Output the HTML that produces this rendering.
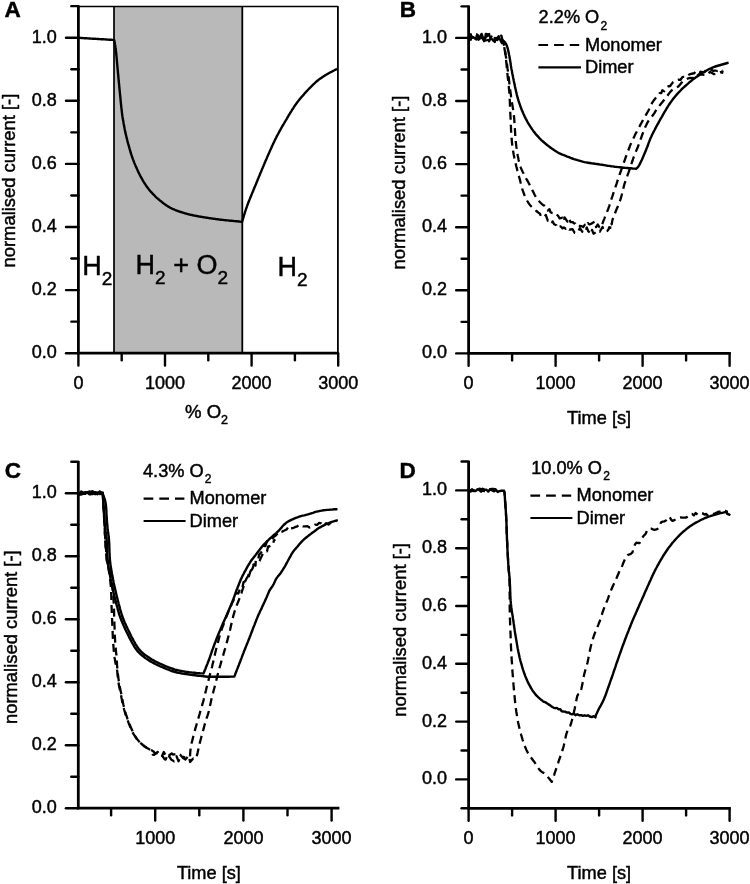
<!DOCTYPE html>
<html><head><meta charset="utf-8"><style>
html,body{margin:0;padding:0;background:#fff;}
svg{display:block;font-family:"Liberation Sans", sans-serif;}
text{stroke:#000;stroke-width:0.45px;}
</style></head><body>
<svg style="filter:grayscale(1)" width="750" height="884" viewBox="0 0 750 884" font-family='"Liberation Sans", sans-serif' fill="#000">
<rect width="750" height="884" fill="#fff"/>
<rect x="114.00" y="6.15" width="128.30" height="347.05" fill="#b9b9b9"/>
<line x1="114.00" y1="6.15" x2="114.00" y2="353.20" stroke="#000" stroke-width="1.7" stroke-linecap="butt"/>
<line x1="242.30" y1="6.15" x2="242.30" y2="353.20" stroke="#000" stroke-width="1.8" stroke-linecap="butt"/>
<line x1="78.40" y1="6.60" x2="337.90" y2="6.60" stroke="#000" stroke-width="1.5" stroke-linecap="butt"/>
<line x1="337.90" y1="5.90" x2="337.90" y2="353.20" stroke="#000" stroke-width="1.8" stroke-linecap="butt"/>
<line x1="78.40" y1="5.65" x2="78.40" y2="353.20" stroke="#000" stroke-width="2.8" stroke-linecap="butt"/>
<line x1="77.00" y1="353.20" x2="338.90" y2="353.20" stroke="#000" stroke-width="2.8" stroke-linecap="butt"/>
<line x1="66.00" y1="353.20" x2="78.40" y2="353.20" stroke="#000" stroke-width="2.4" stroke-linecap="round"/>
<line x1="66.00" y1="290.10" x2="78.40" y2="290.10" stroke="#000" stroke-width="2.4" stroke-linecap="round"/>
<line x1="66.00" y1="227.00" x2="78.40" y2="227.00" stroke="#000" stroke-width="2.4" stroke-linecap="round"/>
<line x1="66.00" y1="163.90" x2="78.40" y2="163.90" stroke="#000" stroke-width="2.4" stroke-linecap="round"/>
<line x1="66.00" y1="100.80" x2="78.40" y2="100.80" stroke="#000" stroke-width="2.4" stroke-linecap="round"/>
<line x1="66.00" y1="37.70" x2="78.40" y2="37.70" stroke="#000" stroke-width="2.4" stroke-linecap="round"/>
<line x1="71.40" y1="321.65" x2="78.40" y2="321.65" stroke="#000" stroke-width="2.4" stroke-linecap="round"/>
<line x1="71.40" y1="258.55" x2="78.40" y2="258.55" stroke="#000" stroke-width="2.4" stroke-linecap="round"/>
<line x1="71.40" y1="195.45" x2="78.40" y2="195.45" stroke="#000" stroke-width="2.4" stroke-linecap="round"/>
<line x1="71.40" y1="132.35" x2="78.40" y2="132.35" stroke="#000" stroke-width="2.4" stroke-linecap="round"/>
<line x1="71.40" y1="69.25" x2="78.40" y2="69.25" stroke="#000" stroke-width="2.4" stroke-linecap="round"/>
<line x1="71.40" y1="6.15" x2="78.40" y2="6.15" stroke="#000" stroke-width="2.4" stroke-linecap="round"/>
<line x1="78.40" y1="353.20" x2="78.40" y2="365.60" stroke="#000" stroke-width="2.4" stroke-linecap="round"/>
<line x1="165.00" y1="353.20" x2="165.00" y2="365.60" stroke="#000" stroke-width="2.4" stroke-linecap="round"/>
<line x1="251.60" y1="353.20" x2="251.60" y2="365.60" stroke="#000" stroke-width="2.4" stroke-linecap="round"/>
<line x1="338.20" y1="353.20" x2="338.20" y2="365.60" stroke="#000" stroke-width="2.4" stroke-linecap="round"/>
<line x1="121.70" y1="353.20" x2="121.70" y2="360.20" stroke="#000" stroke-width="2.4" stroke-linecap="round"/>
<line x1="208.30" y1="353.20" x2="208.30" y2="360.20" stroke="#000" stroke-width="2.4" stroke-linecap="round"/>
<line x1="294.90" y1="353.20" x2="294.90" y2="360.20" stroke="#000" stroke-width="2.4" stroke-linecap="round"/>
<text x="56.80" y="358.20" font-size="18" text-anchor="end" font-weight="normal">0.0</text>
<text x="56.80" y="295.10" font-size="18" text-anchor="end" font-weight="normal">0.2</text>
<text x="56.80" y="232.00" font-size="18" text-anchor="end" font-weight="normal">0.4</text>
<text x="56.80" y="168.90" font-size="18" text-anchor="end" font-weight="normal">0.6</text>
<text x="56.80" y="105.80" font-size="18" text-anchor="end" font-weight="normal">0.8</text>
<text x="56.80" y="42.70" font-size="18" text-anchor="end" font-weight="normal">1.0</text>
<text x="78.40" y="388.60" font-size="18" text-anchor="middle" font-weight="normal">0</text>
<text x="165.00" y="388.60" font-size="18" text-anchor="middle" font-weight="normal">1000</text>
<text x="251.60" y="388.60" font-size="18" text-anchor="middle" font-weight="normal">2000</text>
<text x="338.20" y="388.60" font-size="18" text-anchor="middle" font-weight="normal">3000</text>
<text transform="translate(14.60,180.60) rotate(-90)" x="0" y="0" font-size="18.4" text-anchor="middle">normalised current [-]</text>
<text x="206.50" y="417.80" font-size="18.6" text-anchor="middle" font-weight="normal">% O<tspan font-size="12.5" dy="6.3">2</tspan></text>
<text x="4.60" y="17.30" font-size="22.5" text-anchor="start" font-weight="bold">A</text>
<text x="82.30" y="274.70" font-size="27" text-anchor="start" font-weight="normal">H<tspan font-size="19" dy="10">2</tspan></text>
<text x="135.60" y="274.30" font-size="27" text-anchor="start" font-weight="normal">H<tspan font-size="19" dy="10">2</tspan><tspan dy="-10"> + O</tspan><tspan font-size="19" dy="10">2</tspan></text>
<text x="277.50" y="275.80" font-size="27" text-anchor="start" font-weight="normal">H<tspan font-size="19" dy="10">2</tspan></text>
<line x1="468.60" y1="5.85" x2="468.60" y2="353.40" stroke="#000" stroke-width="2.8" stroke-linecap="butt"/>
<line x1="467.20" y1="353.40" x2="730.80" y2="353.40" stroke="#000" stroke-width="2.8" stroke-linecap="butt"/>
<line x1="456.20" y1="353.40" x2="468.60" y2="353.40" stroke="#000" stroke-width="2.4" stroke-linecap="round"/>
<line x1="456.20" y1="290.30" x2="468.60" y2="290.30" stroke="#000" stroke-width="2.4" stroke-linecap="round"/>
<line x1="456.20" y1="227.20" x2="468.60" y2="227.20" stroke="#000" stroke-width="2.4" stroke-linecap="round"/>
<line x1="456.20" y1="164.10" x2="468.60" y2="164.10" stroke="#000" stroke-width="2.4" stroke-linecap="round"/>
<line x1="456.20" y1="101.00" x2="468.60" y2="101.00" stroke="#000" stroke-width="2.4" stroke-linecap="round"/>
<line x1="456.20" y1="37.90" x2="468.60" y2="37.90" stroke="#000" stroke-width="2.4" stroke-linecap="round"/>
<line x1="461.60" y1="321.85" x2="468.60" y2="321.85" stroke="#000" stroke-width="2.4" stroke-linecap="round"/>
<line x1="461.60" y1="258.75" x2="468.60" y2="258.75" stroke="#000" stroke-width="2.4" stroke-linecap="round"/>
<line x1="461.60" y1="195.65" x2="468.60" y2="195.65" stroke="#000" stroke-width="2.4" stroke-linecap="round"/>
<line x1="461.60" y1="132.55" x2="468.60" y2="132.55" stroke="#000" stroke-width="2.4" stroke-linecap="round"/>
<line x1="461.60" y1="69.45" x2="468.60" y2="69.45" stroke="#000" stroke-width="2.4" stroke-linecap="round"/>
<line x1="461.60" y1="6.35" x2="468.60" y2="6.35" stroke="#000" stroke-width="2.4" stroke-linecap="round"/>
<line x1="468.60" y1="353.40" x2="468.60" y2="365.80" stroke="#000" stroke-width="2.4" stroke-linecap="round"/>
<line x1="555.60" y1="353.40" x2="555.60" y2="365.80" stroke="#000" stroke-width="2.4" stroke-linecap="round"/>
<line x1="642.60" y1="353.40" x2="642.60" y2="365.80" stroke="#000" stroke-width="2.4" stroke-linecap="round"/>
<line x1="729.60" y1="353.40" x2="729.60" y2="365.80" stroke="#000" stroke-width="2.4" stroke-linecap="round"/>
<line x1="512.10" y1="353.40" x2="512.10" y2="360.40" stroke="#000" stroke-width="2.4" stroke-linecap="round"/>
<line x1="599.10" y1="353.40" x2="599.10" y2="360.40" stroke="#000" stroke-width="2.4" stroke-linecap="round"/>
<line x1="686.10" y1="353.40" x2="686.10" y2="360.40" stroke="#000" stroke-width="2.4" stroke-linecap="round"/>
<text x="447.00" y="358.40" font-size="18" text-anchor="end" font-weight="normal">0.0</text>
<text x="447.00" y="295.30" font-size="18" text-anchor="end" font-weight="normal">0.2</text>
<text x="447.00" y="232.20" font-size="18" text-anchor="end" font-weight="normal">0.4</text>
<text x="447.00" y="169.10" font-size="18" text-anchor="end" font-weight="normal">0.6</text>
<text x="447.00" y="106.00" font-size="18" text-anchor="end" font-weight="normal">0.8</text>
<text x="447.00" y="42.90" font-size="18" text-anchor="end" font-weight="normal">1.0</text>
<text x="468.60" y="388.80" font-size="18" text-anchor="middle" font-weight="normal">0</text>
<text x="555.60" y="388.80" font-size="18" text-anchor="middle" font-weight="normal">1000</text>
<text x="642.60" y="388.80" font-size="18" text-anchor="middle" font-weight="normal">2000</text>
<text x="729.60" y="388.80" font-size="18" text-anchor="middle" font-weight="normal">3000</text>
<text transform="translate(404.60,182.50) rotate(-90)" x="0" y="0" font-size="18.4" text-anchor="middle">normalised current [-]</text>
<text x="599.10" y="423.70" font-size="18.2" text-anchor="middle" font-weight="normal">Time [s]</text>
<text x="399.80" y="17.30" font-size="22.5" text-anchor="start" font-weight="bold">B</text>
<line x1="78.30" y1="461.31" x2="78.30" y2="808.20" stroke="#000" stroke-width="2.8" stroke-linecap="butt"/>
<line x1="76.90" y1="808.20" x2="339.40" y2="808.20" stroke="#000" stroke-width="2.8" stroke-linecap="butt"/>
<line x1="65.90" y1="808.20" x2="78.30" y2="808.20" stroke="#000" stroke-width="2.4" stroke-linecap="round"/>
<line x1="65.90" y1="745.22" x2="78.30" y2="745.22" stroke="#000" stroke-width="2.4" stroke-linecap="round"/>
<line x1="65.90" y1="682.24" x2="78.30" y2="682.24" stroke="#000" stroke-width="2.4" stroke-linecap="round"/>
<line x1="65.90" y1="619.26" x2="78.30" y2="619.26" stroke="#000" stroke-width="2.4" stroke-linecap="round"/>
<line x1="65.90" y1="556.28" x2="78.30" y2="556.28" stroke="#000" stroke-width="2.4" stroke-linecap="round"/>
<line x1="65.90" y1="493.30" x2="78.30" y2="493.30" stroke="#000" stroke-width="2.4" stroke-linecap="round"/>
<line x1="71.30" y1="776.71" x2="78.30" y2="776.71" stroke="#000" stroke-width="2.4" stroke-linecap="round"/>
<line x1="71.30" y1="713.73" x2="78.30" y2="713.73" stroke="#000" stroke-width="2.4" stroke-linecap="round"/>
<line x1="71.30" y1="650.75" x2="78.30" y2="650.75" stroke="#000" stroke-width="2.4" stroke-linecap="round"/>
<line x1="71.30" y1="587.77" x2="78.30" y2="587.77" stroke="#000" stroke-width="2.4" stroke-linecap="round"/>
<line x1="71.30" y1="524.79" x2="78.30" y2="524.79" stroke="#000" stroke-width="2.4" stroke-linecap="round"/>
<line x1="71.30" y1="461.81" x2="78.30" y2="461.81" stroke="#000" stroke-width="2.4" stroke-linecap="round"/>
<line x1="155.20" y1="808.20" x2="155.20" y2="820.60" stroke="#000" stroke-width="2.4" stroke-linecap="round"/>
<line x1="243.40" y1="808.20" x2="243.40" y2="820.60" stroke="#000" stroke-width="2.4" stroke-linecap="round"/>
<line x1="331.60" y1="808.20" x2="331.60" y2="820.60" stroke="#000" stroke-width="2.4" stroke-linecap="round"/>
<line x1="111.10" y1="808.20" x2="111.10" y2="815.20" stroke="#000" stroke-width="2.4" stroke-linecap="round"/>
<line x1="199.30" y1="808.20" x2="199.30" y2="815.20" stroke="#000" stroke-width="2.4" stroke-linecap="round"/>
<line x1="287.50" y1="808.20" x2="287.50" y2="815.20" stroke="#000" stroke-width="2.4" stroke-linecap="round"/>
<text x="56.70" y="813.20" font-size="18" text-anchor="end" font-weight="normal">0.0</text>
<text x="56.70" y="750.22" font-size="18" text-anchor="end" font-weight="normal">0.2</text>
<text x="56.70" y="687.24" font-size="18" text-anchor="end" font-weight="normal">0.4</text>
<text x="56.70" y="624.26" font-size="18" text-anchor="end" font-weight="normal">0.6</text>
<text x="56.70" y="561.28" font-size="18" text-anchor="end" font-weight="normal">0.8</text>
<text x="56.70" y="498.30" font-size="18" text-anchor="end" font-weight="normal">1.0</text>
<text x="155.20" y="843.60" font-size="18" text-anchor="middle" font-weight="normal">1000</text>
<text x="243.40" y="843.60" font-size="18" text-anchor="middle" font-weight="normal">2000</text>
<text x="331.60" y="843.60" font-size="18" text-anchor="middle" font-weight="normal">3000</text>
<text transform="translate(17.10,637.20) rotate(-90)" x="0" y="0" font-size="18.4" text-anchor="middle">normalised current [-]</text>
<text x="208.90" y="879.40" font-size="18.2" text-anchor="middle" font-weight="normal">Time [s]</text>
<text x="4.80" y="477.70" font-size="22.5" text-anchor="start" font-weight="bold">C</text>
<line x1="468.60" y1="461.00" x2="468.60" y2="808.40" stroke="#000" stroke-width="2.8" stroke-linecap="butt"/>
<line x1="467.20" y1="808.40" x2="730.80" y2="808.40" stroke="#000" stroke-width="2.8" stroke-linecap="butt"/>
<line x1="456.20" y1="779.40" x2="468.60" y2="779.40" stroke="#000" stroke-width="2.4" stroke-linecap="round"/>
<line x1="456.20" y1="721.60" x2="468.60" y2="721.60" stroke="#000" stroke-width="2.4" stroke-linecap="round"/>
<line x1="456.20" y1="663.80" x2="468.60" y2="663.80" stroke="#000" stroke-width="2.4" stroke-linecap="round"/>
<line x1="456.20" y1="606.00" x2="468.60" y2="606.00" stroke="#000" stroke-width="2.4" stroke-linecap="round"/>
<line x1="456.20" y1="548.20" x2="468.60" y2="548.20" stroke="#000" stroke-width="2.4" stroke-linecap="round"/>
<line x1="456.20" y1="490.40" x2="468.60" y2="490.40" stroke="#000" stroke-width="2.4" stroke-linecap="round"/>
<line x1="461.60" y1="808.30" x2="468.60" y2="808.30" stroke="#000" stroke-width="2.4" stroke-linecap="round"/>
<line x1="461.60" y1="750.50" x2="468.60" y2="750.50" stroke="#000" stroke-width="2.4" stroke-linecap="round"/>
<line x1="461.60" y1="692.70" x2="468.60" y2="692.70" stroke="#000" stroke-width="2.4" stroke-linecap="round"/>
<line x1="461.60" y1="634.90" x2="468.60" y2="634.90" stroke="#000" stroke-width="2.4" stroke-linecap="round"/>
<line x1="461.60" y1="577.10" x2="468.60" y2="577.10" stroke="#000" stroke-width="2.4" stroke-linecap="round"/>
<line x1="461.60" y1="519.30" x2="468.60" y2="519.30" stroke="#000" stroke-width="2.4" stroke-linecap="round"/>
<line x1="461.60" y1="461.50" x2="468.60" y2="461.50" stroke="#000" stroke-width="2.4" stroke-linecap="round"/>
<line x1="468.60" y1="808.40" x2="468.60" y2="820.80" stroke="#000" stroke-width="2.4" stroke-linecap="round"/>
<line x1="555.60" y1="808.40" x2="555.60" y2="820.80" stroke="#000" stroke-width="2.4" stroke-linecap="round"/>
<line x1="642.60" y1="808.40" x2="642.60" y2="820.80" stroke="#000" stroke-width="2.4" stroke-linecap="round"/>
<line x1="729.60" y1="808.40" x2="729.60" y2="820.80" stroke="#000" stroke-width="2.4" stroke-linecap="round"/>
<line x1="512.10" y1="808.40" x2="512.10" y2="815.40" stroke="#000" stroke-width="2.4" stroke-linecap="round"/>
<line x1="599.10" y1="808.40" x2="599.10" y2="815.40" stroke="#000" stroke-width="2.4" stroke-linecap="round"/>
<line x1="686.10" y1="808.40" x2="686.10" y2="815.40" stroke="#000" stroke-width="2.4" stroke-linecap="round"/>
<text x="447.00" y="784.40" font-size="18" text-anchor="end" font-weight="normal">0.0</text>
<text x="447.00" y="726.60" font-size="18" text-anchor="end" font-weight="normal">0.2</text>
<text x="447.00" y="668.80" font-size="18" text-anchor="end" font-weight="normal">0.4</text>
<text x="447.00" y="611.00" font-size="18" text-anchor="end" font-weight="normal">0.6</text>
<text x="447.00" y="553.20" font-size="18" text-anchor="end" font-weight="normal">0.8</text>
<text x="447.00" y="495.40" font-size="18" text-anchor="end" font-weight="normal">1.0</text>
<text x="468.60" y="843.80" font-size="18" text-anchor="middle" font-weight="normal">0</text>
<text x="555.60" y="843.80" font-size="18" text-anchor="middle" font-weight="normal">1000</text>
<text x="642.60" y="843.80" font-size="18" text-anchor="middle" font-weight="normal">2000</text>
<text x="729.60" y="843.80" font-size="18" text-anchor="middle" font-weight="normal">3000</text>
<text transform="translate(406.40,629.90) rotate(-90)" x="0" y="0" font-size="18.4" text-anchor="middle">normalised current [-]</text>
<text x="599.10" y="878.80" font-size="18.2" text-anchor="middle" font-weight="normal">Time [s]</text>
<text x="399.50" y="477.50" font-size="22.5" text-anchor="start" font-weight="bold">D</text>
<text x="538.60" y="23.40" font-size="18.2" text-anchor="start" font-weight="normal">2.2% O<tspan font-size="12" dx="1.2" dy="6.3">2</tspan></text>
<line x1="538.40" y1="45.00" x2="579.20" y2="45.00" stroke="#000" stroke-width="2.2" stroke-linecap="butt" stroke-dasharray="9.7 6"/>
<line x1="538.40" y1="67.40" x2="581.00" y2="67.40" stroke="#000" stroke-width="2.2" stroke-linecap="butt"/>
<text x="585.00" y="50.70" font-size="18.2" text-anchor="start" font-weight="normal">Monomer</text>
<text x="585.00" y="73.10" font-size="18.2" text-anchor="start" font-weight="normal">Dimer</text>
<text x="143.00" y="477.00" font-size="18.2" text-anchor="start" font-weight="normal">4.3% O<tspan font-size="12" dx="1.2" dy="6.3">2</tspan></text>
<line x1="143.60" y1="498.60" x2="184.40" y2="498.60" stroke="#000" stroke-width="2.2" stroke-linecap="butt" stroke-dasharray="9.7 6"/>
<line x1="143.60" y1="521.00" x2="185.60" y2="521.00" stroke="#000" stroke-width="2.2" stroke-linecap="butt"/>
<text x="189.60" y="504.30" font-size="18.2" text-anchor="start" font-weight="normal">Monomer</text>
<text x="189.60" y="526.70" font-size="18.2" text-anchor="start" font-weight="normal">Dimer</text>
<text x="531.20" y="474.00" font-size="18.2" text-anchor="start" font-weight="normal">10.0% O<tspan font-size="12" dx="1.2" dy="6.3">2</tspan></text>
<line x1="530.40" y1="495.60" x2="571.20" y2="495.60" stroke="#000" stroke-width="2.2" stroke-linecap="butt" stroke-dasharray="9.7 6"/>
<line x1="530.40" y1="518.00" x2="572.40" y2="518.00" stroke="#000" stroke-width="2.2" stroke-linecap="butt"/>
<text x="576.60" y="501.30" font-size="18.2" text-anchor="start" font-weight="normal">Monomer</text>
<text x="576.60" y="523.70" font-size="18.2" text-anchor="start" font-weight="normal">Dimer</text>
<path d="M78.4,37.8 78.8,37.8 79.2,37.8 79.6,37.9 80.1,37.9 80.6,37.9 81.2,38.0 81.8,38.0 82.4,38.0 83.0,38.1 83.7,38.1 84.4,38.2 85.1,38.2 85.9,38.3 86.6,38.3 87.4,38.4 88.2,38.4 89.0,38.5 89.8,38.5 90.7,38.6 91.5,38.6 92.4,38.7 93.2,38.7 94.1,38.8 95.0,38.8 95.9,38.9 96.7,38.9 97.6,39.0 98.5,39.0 99.4,39.1 100.2,39.1 101.1,39.2 101.9,39.2 102.8,39.3 103.6,39.3 104.4,39.4 105.2,39.4 106.0,39.5 106.7,39.5 107.5,39.6 108.2,39.6 108.9,39.7 109.6,39.7 110.2,39.8 110.8,39.8 111.4,39.8 112.0,39.9 112.5,39.9 113.0,39.9 113.4,40.0 113.8,40.0 114.2,40.0 114.3,40.4 114.3,40.8 114.4,41.3 114.5,41.8 114.6,42.3 114.7,42.9 114.9,43.6 115.0,44.3 115.1,45.0 115.3,45.8 115.4,46.6 115.5,47.5 115.7,48.4 115.8,49.4 115.9,50.4 116.0,50.9 116.0,51.5 116.1,52.1 116.2,52.7 116.2,53.3 116.3,54.0 116.3,54.6 116.4,55.3 116.5,56.0 116.5,56.7 116.6,57.4 116.7,58.1 116.7,58.8 116.8,59.6 116.9,60.3 116.9,61.1 117.0,61.8 117.1,62.6 117.1,63.3 117.2,64.1 117.3,64.8 117.3,65.6 117.4,66.3 117.5,67.1 117.5,67.8 117.6,68.6 117.7,69.3 117.7,70.0 117.8,70.7 117.9,71.4 117.9,72.1 118.0,72.8 118.1,73.5 118.1,74.2 118.2,74.9 118.3,75.6 118.3,76.3 118.4,77.0 118.4,77.7 118.5,78.4 118.6,79.1 118.6,79.8 118.7,80.5 118.8,81.2 118.8,81.9 118.9,82.6 119.0,83.3 119.0,84.0 119.1,84.7 119.2,85.4 119.2,86.1 119.3,86.8 119.4,87.5 119.4,88.2 119.5,88.9 119.6,89.6 119.6,90.3 119.7,91.0 119.8,91.7 119.8,92.4 119.9,93.1 120.0,93.9 120.1,94.6 120.1,95.4 120.2,96.1 120.3,96.8 120.4,97.6 120.4,98.4 120.5,99.1 120.6,99.9 120.6,100.6 120.7,101.3 120.8,102.1 120.9,102.8 120.9,103.5 121.0,104.3 121.1,105.0 121.2,105.7 121.2,106.4 121.3,107.0 121.4,107.7 121.5,108.3 121.5,109.0 121.6,109.6 121.7,110.2 121.7,110.7 121.8,111.3 121.9,112.3 122.0,113.1 122.1,114.0 122.2,114.8 122.3,115.5 122.4,116.2 122.5,116.9 122.6,117.5 122.7,118.1 122.8,118.8 122.9,119.4 123.0,120.0 123.2,120.6 123.3,121.2 123.4,121.9 123.5,122.6 123.6,123.3 123.7,124.0 123.9,124.7 124.0,125.4 124.1,126.1 124.3,126.8 124.4,127.5 124.5,128.2 124.7,129.0 124.8,129.7 124.9,130.4 125.1,131.1 125.2,131.8 125.4,132.5 125.5,133.2 125.7,133.9 125.9,134.6 126.0,135.3 126.2,136.0 126.4,136.7 126.5,137.4 126.7,138.1 126.9,138.8 127.1,139.5 127.3,140.2 127.4,141.0 127.6,141.7 127.8,142.4 128.0,143.1 128.2,143.8 128.4,144.5 128.6,145.2 128.8,145.9 129.0,146.6 129.2,147.3 129.4,148.0 129.6,148.8 129.8,149.5 130.0,150.2 130.2,150.9 130.4,151.6 130.6,152.3 130.8,153.0 131.1,153.8 131.3,154.5 131.5,155.2 131.8,155.9 132.0,156.6 132.2,157.3 132.5,157.9 132.7,158.6 133.0,159.3 133.2,159.9 133.5,160.6 133.7,161.3 134.0,161.9 134.2,162.6 134.5,163.3 134.8,163.9 135.1,164.6 135.3,165.2 135.6,165.9 135.9,166.6 136.2,167.2 136.5,167.9 136.8,168.5 137.1,169.2 137.4,169.8 137.6,170.4 137.9,171.1 138.2,171.7 138.5,172.3 138.8,173.0 139.2,173.6 139.5,174.3 139.8,174.9 140.1,175.5 140.4,176.1 140.8,176.8 141.1,177.4 141.4,178.0 141.8,178.6 142.1,179.2 142.5,179.8 142.8,180.5 143.2,181.1 143.6,181.7 143.9,182.3 144.3,182.9 144.7,183.5 145.1,184.1 145.5,184.7 145.9,185.3 146.3,185.9 146.7,186.5 147.1,187.1 147.5,187.7 148.0,188.2 148.4,188.8 148.9,189.4 149.3,189.9 149.8,190.5 150.2,191.0 150.7,191.6 151.2,192.1 151.7,192.6 152.1,193.1 152.6,193.7 153.1,194.2 153.6,194.7 154.1,195.2 154.7,195.7 155.2,196.3 155.7,196.8 156.3,197.3 156.8,197.8 157.4,198.3 158.0,198.8 158.5,199.2 159.0,199.7 159.5,200.1 160.1,200.6 160.6,201.0 161.1,201.4 161.7,201.9 162.2,202.3 162.8,202.8 163.3,203.2 163.9,203.6 164.5,204.1 165.1,204.5 165.7,204.9 166.3,205.3 166.9,205.7 167.5,206.1 168.1,206.5 168.7,206.9 169.4,207.2 170.0,207.6 170.6,207.9 171.3,208.2 171.9,208.6 172.5,208.9 173.2,209.2 173.9,209.4 174.6,209.7 175.2,210.0 175.9,210.3 176.6,210.5 177.3,210.8 178.0,211.0 178.7,211.3 179.4,211.5 180.1,211.8 180.8,212.0 181.5,212.2 182.2,212.5 182.9,212.7 183.6,212.9 184.3,213.1 185.0,213.3 185.7,213.5 186.4,213.7 187.1,213.9 187.8,214.1 188.5,214.3 189.1,214.4 189.8,214.6 190.5,214.7 191.2,214.9 191.8,215.0 192.5,215.2 193.2,215.3 193.9,215.5 194.6,215.6 195.3,215.7 196.1,215.9 196.8,216.0 197.6,216.2 198.4,216.3 199.2,216.5 200.0,216.6 200.6,216.7 201.3,216.8 201.9,216.9 202.6,217.1 203.2,217.2 203.9,217.3 204.6,217.4 205.3,217.5 206.0,217.6 206.7,217.7 207.4,217.8 208.1,217.9 208.8,218.1 209.6,218.2 210.3,218.3 211.0,218.4 211.8,218.5 212.5,218.6 213.2,218.7 214.0,218.8 214.7,218.9 215.5,219.0 216.2,219.1 217.0,219.2 217.7,219.3 218.5,219.4 219.2,219.5 220.0,219.6 220.7,219.7 221.4,219.8 222.1,219.9 222.9,219.9 223.7,220.0 224.5,220.1 225.3,220.2 226.1,220.3 226.9,220.4 227.8,220.4 228.6,220.5 229.4,220.6 230.2,220.7 231.1,220.8 231.9,220.8 232.7,220.9 233.5,221.0 234.3,221.1 235.1,221.1 235.8,221.2 236.5,221.3 237.2,221.3 237.9,221.4 238.6,221.5 239.2,221.5 239.8,221.6 240.3,221.6 240.8,221.7 241.3,221.7 241.7,221.8 242.1,221.8 242.2,221.4 242.3,221.0 242.5,220.6 242.6,220.1 242.8,219.6 242.9,219.0 243.1,218.4 243.3,217.8 243.5,217.1 243.7,216.4 243.9,215.7 244.1,215.0 244.4,214.3 244.6,213.5 244.8,212.8 245.1,212.0 245.3,211.2 245.6,210.4 245.8,209.6 246.1,208.8 246.4,208.0 246.7,207.2 246.9,206.5 247.2,205.7 247.4,205.1 247.6,204.5 247.9,203.9 248.1,203.3 248.3,202.7 248.6,202.1 248.8,201.5 249.0,200.9 249.3,200.2 249.5,199.6 249.8,199.0 250.1,198.3 250.3,197.7 250.6,197.1 250.8,196.4 251.1,195.7 251.4,195.1 251.7,194.4 251.9,193.8 252.2,193.1 252.5,192.4 252.8,191.7 253.1,191.0 253.4,190.4 253.6,189.7 253.9,189.0 254.2,188.3 254.5,187.5 254.8,186.8 255.1,186.1 255.4,185.4 255.7,184.8 255.9,184.2 256.2,183.6 256.4,182.9 256.7,182.3 256.9,181.6 257.2,181.0 257.5,180.3 257.7,179.7 258.0,179.0 258.3,178.4 258.6,177.7 258.8,177.0 259.1,176.3 259.4,175.7 259.7,175.0 260.0,174.3 260.2,173.6 260.5,172.9 260.8,172.3 261.1,171.6 261.4,170.9 261.7,170.2 261.9,169.5 262.2,168.8 262.5,168.2 262.8,167.5 263.1,166.8 263.4,166.1 263.6,165.5 263.9,164.8 264.2,164.1 264.5,163.5 264.8,162.8 265.0,162.2 265.3,161.5 265.6,160.9 265.9,160.2 266.2,159.6 266.5,158.9 266.8,158.2 267.0,157.6 267.3,156.9 267.6,156.2 267.9,155.6 268.2,154.9 268.5,154.2 268.8,153.6 269.1,152.9 269.4,152.2 269.6,151.6 269.9,150.9 270.2,150.3 270.5,149.6 270.8,149.0 271.1,148.3 271.4,147.7 271.7,147.1 271.9,146.4 272.2,145.8 272.5,145.2 272.8,144.5 273.1,143.9 273.4,143.3 273.7,142.7 274.0,142.1 274.3,141.5 274.5,140.9 274.8,140.3 275.1,139.7 275.4,139.1 275.7,138.5 276.1,137.8 276.4,137.1 276.8,136.4 277.1,135.7 277.5,135.1 277.8,134.4 278.2,133.8 278.5,133.1 278.9,132.5 279.2,131.8 279.6,131.2 279.9,130.5 280.3,129.9 280.6,129.3 281.0,128.7 281.3,128.0 281.7,127.4 282.0,126.8 282.4,126.2 282.7,125.6 283.1,125.0 283.4,124.4 283.8,123.8 284.1,123.2 284.5,122.6 284.8,122.0 285.2,121.4 285.5,120.8 285.9,120.2 286.3,119.6 286.7,118.9 287.0,118.3 287.4,117.6 287.8,117.0 288.2,116.4 288.5,115.7 288.9,115.1 289.3,114.5 289.7,113.8 290.1,113.2 290.4,112.6 290.8,112.0 291.2,111.4 291.6,110.8 291.9,110.1 292.3,109.5 292.7,109.0 293.1,108.4 293.5,107.8 293.8,107.2 294.2,106.6 294.6,106.1 295.0,105.5 295.3,105.0 295.7,104.4 296.1,103.9 296.6,103.3 297.0,102.6 297.5,102.0 298.0,101.4 298.4,100.8 298.9,100.2 299.3,99.6 299.8,99.1 300.3,98.5 300.7,98.0 301.2,97.4 301.7,96.9 302.1,96.3 302.6,95.8 303.1,95.3 303.5,94.8 304.0,94.3 304.4,93.7 304.9,93.2 305.4,92.7 305.8,92.2 306.3,91.7 306.8,91.1 307.3,90.6 307.8,90.0 308.3,89.5 308.9,88.9 309.4,88.4 309.9,87.9 310.4,87.3 310.9,86.8 311.4,86.3 311.9,85.8 312.4,85.3 312.9,84.8 313.4,84.3 313.9,83.8 314.5,83.3 315.0,82.8 315.5,82.4 316.0,81.9 316.5,81.5 317.1,81.0 317.7,80.5 318.3,80.0 318.9,79.6 319.5,79.1 320.1,78.7 320.7,78.3 321.3,77.9 321.9,77.5 322.5,77.1 323.1,76.7 323.7,76.3 324.3,75.9 324.9,75.5 325.5,75.1 326.1,74.8 326.7,74.4 327.4,74.0 328.1,73.6 328.8,73.2 329.5,72.8 330.3,72.4 331.0,72.0 331.8,71.6 332.5,71.2 333.2,70.8 333.9,70.5 334.5,70.2 335.1,69.9 335.7,69.6 336.2,69.3 336.6,69.1 337.0,68.9" fill="none" stroke="#000" stroke-width="2.4" stroke-linejoin="round" stroke-linecap="butt"/>
<path d="M468.5,37.5 471.4,36.8 472.2,37.8 473.3,37.2 476.1,39.4 476.7,35.8 478.5,39.7 481.6,33.9 484.1,41.0 485.1,38.5 485.8,34.0 488.4,34.5 489.5,36.1 490.9,38.0 493.6,41.0 495.6,39.7 497.3,40.1 499.0,37.5 502.0,43.2 502.5,40.2 504.0,41.2 505.2,42.5 506.1,44.1 506.8,45.7 507.4,47.4 507.9,49.2 508.3,50.9 508.7,52.7 509.0,54.5 509.4,56.2 509.7,58.0 510.0,59.8 510.3,61.6 510.6,63.3 510.8,65.1 511.1,66.9 511.4,68.7 511.8,70.4 512.1,72.2 512.4,74.0 512.8,75.7 513.1,77.5 513.5,79.3 513.8,81.0 514.2,82.8 514.6,84.5 514.9,86.3 515.3,88.1 515.7,89.8 516.1,91.6 516.5,93.3 516.9,95.1 517.4,96.8 517.9,98.6 518.4,100.3 518.9,102.0 519.5,103.7 520.1,105.4 520.7,107.1 521.3,108.8 522.0,110.5 522.7,112.1 523.4,113.8 524.2,115.4 524.9,117.0 525.7,118.6 526.6,120.2 527.4,121.8 528.3,123.4 529.3,124.9 530.2,126.4 531.2,127.9 532.2,129.4 533.3,130.9 534.4,132.3 535.5,133.7 536.7,135.1 537.9,136.4 539.1,137.8 540.3,139.0 541.6,140.3 543.0,141.5 544.3,142.7 545.7,143.8 547.1,145.0 548.6,146.1 550.0,147.2 551.4,148.3 552.9,149.3 554.3,150.3 555.9,151.3 557.4,152.2 559.0,153.1 560.6,153.8 562.3,154.6 563.9,155.2 565.6,155.9 567.3,156.6 569.0,157.2 570.6,157.9 572.3,158.5 574.0,159.1 575.7,159.6 577.5,160.2 579.2,160.7 580.9,161.2 582.6,161.7 584.4,162.1 586.2,162.4 587.9,162.7 589.7,163.0 591.5,163.3 593.3,163.5 595.1,163.8 596.8,164.0 598.6,164.3 600.4,164.6 602.2,164.8 604.0,165.1 605.7,165.4 607.5,165.7 609.3,165.9 611.1,166.2 612.9,166.4 614.7,166.7 616.4,166.9 618.2,167.1 620.0,167.3 621.8,167.5 623.6,167.7 625.4,167.9 627.2,168.0 629.0,168.2 630.8,168.3 632.6,168.5 634.4,168.6 636.1,168.8 637.4,167.6 638.6,166.2 639.5,164.6 640.3,163.0 641.1,161.4 641.9,159.8 642.6,158.1 643.3,156.5 644.0,154.8 644.7,153.2 645.4,151.5 646.1,149.8 646.7,148.2 647.4,146.5 648.0,144.8 648.6,143.1 649.3,141.4 649.9,139.8 650.6,138.1 651.4,136.4 652.1,134.8 652.9,133.2 653.7,131.6 654.6,130.0 655.4,128.4 656.2,126.8 657.1,125.2 658.0,123.7 658.8,122.1 659.7,120.5 660.6,118.9 661.5,117.4 662.4,115.8 663.3,114.2 664.1,112.7 665.1,111.1 666.0,109.6 666.9,108.0 667.9,106.5 668.8,105.0 669.8,103.5 670.9,102.0 671.9,100.6 673.0,99.1 674.1,97.7 675.3,96.3 676.4,94.9 677.6,93.6 678.8,92.3 680.1,91.0 681.3,89.7 682.6,88.4 684.0,87.2 685.3,86.0 686.6,84.8 688.0,83.6 689.3,82.4 690.7,81.3 692.1,80.1 693.5,79.0 695.0,78.0 696.4,76.9 697.9,75.9 699.4,74.9 700.9,73.9 702.4,72.9 704.0,72.0 705.5,71.1 707.1,70.2 708.7,69.3 710.3,68.5 711.9,67.8 713.6,67.1 715.3,66.5 717.0,66.0 718.7,65.5 720.5,65.0 722.2,64.5 723.9,64.0 725.7,63.5 727.4,63.0 728.6,62.7" fill="none" stroke="#000" stroke-width="2.4" stroke-linejoin="round" stroke-linecap="butt"/>
<path d="M468.5,38.3 470.8,34.2 471.0,36.1 473.5,39.6 476.3,38.0 477.7,38.6 478.5,36.8 480.4,40.6 481.9,40.0 483.8,39.1 486.2,37.0 489.2,34.0 489.1,41.4 492.0,35.0 494.9,42.0 494.6,38.0 496.4,37.4 499.4,36.4 501.4,35.7 502.4,40.1 503.2,41.7 503.6,43.5 503.9,45.2 504.2,47.0 504.5,48.8 504.8,50.6 505.1,52.3 505.3,54.1 505.6,55.9 505.8,57.7 506.0,59.5 506.2,61.3 506.4,63.1 506.6,64.9 506.7,66.6 506.9,68.4 507.1,70.2 507.3,72.0 507.4,73.8 507.6,75.6 507.8,77.4 508.0,79.2 508.2,81.0 508.4,82.8 508.6,84.5 508.8,86.3 508.9,88.1 509.1,89.9 509.3,91.7 509.4,93.5 509.5,95.3 509.6,97.1 509.7,98.9 509.8,100.7 509.9,102.5 509.9,104.3 510.0,106.1 510.1,107.9 510.2,109.7 510.2,111.5 510.3,113.3 510.4,115.1 510.5,116.9 510.6,118.7 510.6,120.5 510.7,122.3 510.8,124.1 510.9,125.9 511.0,127.7 511.0,129.5 511.1,131.3 511.2,133.1 511.4,134.9 511.5,136.7 511.6,138.5 511.8,140.2 511.9,142.0 512.1,143.8 512.3,145.6 512.5,147.4 512.8,149.2 513.1,151.0 513.4,152.7 513.7,154.5 514.1,156.3 514.4,158.0 514.8,159.8 515.2,161.6 515.6,163.3 516.0,165.1 516.4,166.8 516.9,168.6 517.3,170.3 517.8,172.0 518.2,173.8 518.7,175.5 519.2,177.2 519.7,179.0 520.2,180.7 520.6,182.5 521.1,184.2 521.5,186.0 521.9,187.7 522.4,189.4 523.0,191.1 523.6,192.8 524.2,194.5 524.9,196.2 525.7,197.8 526.5,199.4 527.3,201.0 528.3,202.6 529.3,204.1 530.4,205.5 531.6,206.8 532.9,208.0 534.3,209.2 535.6,210.4 537.0,211.5 538.4,212.6 539.9,213.7 540.9,216.3 542.7,215.3 544.6,216.5 545.8,215.0 547.9,220.8 549.9,220.1 550.4,219.5 552.3,222.3 552.6,221.4 554.1,224.2 556.3,225.2 556.7,227.5 559.1,226.4 560.5,226.3 562.6,228.4 563.9,227.5 565.8,228.7 567.2,227.1 569.4,229.7 570.5,229.5 572.5,229.2 574.7,232.9 576.5,232.8 577.8,232.3 579.9,228.1 582.2,231.7 582.9,228.3 585.9,228.9 586.8,227.5 588.2,231.1 591.3,234.0 592.0,229.9 593.5,233.7 595.9,232.2 596.6,230.8 598.6,230.6 599.9,231.5 602.6,226.9 603.5,230.6 605.2,231.5 607.2,230.9 609.0,228.7 609.0,227.3 610.3,227.9 610.1,227.2 611.1,222.1 611.7,224.3 612.4,220.1 613.0,218.4 613.7,216.7 614.3,215.0 615.0,213.3 615.6,211.7 616.3,210.0 617.0,208.3 617.7,206.7 618.4,205.0 619.0,203.3 619.7,201.6 620.3,199.9 620.8,198.2 621.3,196.5 621.8,194.8 622.2,193.0 622.7,191.3 623.1,189.5 623.5,187.8 623.9,186.0 624.4,184.3 624.9,182.6 625.5,180.9 626.0,179.1 626.7,177.5 627.3,175.8 627.9,174.1 628.6,172.4 629.2,170.7 629.8,169.0 630.3,167.3 630.9,165.6 631.4,163.9 632.0,162.2 632.6,160.5 633.1,158.8 633.7,157.1 634.4,155.4 635.0,153.7 635.7,152.0 636.4,150.4 637.1,148.7 637.8,147.0 638.4,145.4 639.1,143.7 639.7,142.0 640.3,140.3 640.9,138.6 641.5,136.9 642.1,135.2 642.7,133.5 643.4,131.8 644.0,130.2 644.7,128.5 645.4,126.8 646.2,125.2 647.0,123.6 647.8,122.0 648.8,120.5 649.9,119.1 651.0,117.6 652.1,116.2 653.2,114.8 654.2,113.3 655.1,111.8 656.1,110.2 657.1,108.7 658.2,107.3 659.3,105.9 660.4,104.5 661.6,103.1 662.7,101.7 663.8,100.3 664.9,98.9 666.1,97.5 667.2,96.1 668.2,94.6 669.3,93.1 670.4,91.7 671.7,90.4 673.1,89.4 674.7,88.6 676.3,87.8 677.9,86.8 679.2,85.6 680.3,84.2 681.5,82.8 682.7,81.5 684.2,80.5 685.8,79.6 687.4,78.8 689.0,78.1 690.8,77.9 692.9,78.5 694.4,75.9 695.9,77.1 697.8,75.4 699.1,74.2 701.3,74.5 702.3,74.7 705.0,74.8 706.8,75.0 708.2,74.4 709.8,71.9 711.6,72.8 714.0,74.2 715.4,73.9 716.7,73.3 719.1,72.5 720.4,72.1 722.2,72.8 722.6,70.5" fill="none" stroke="#000" stroke-width="2.3" stroke-linejoin="round" stroke-linecap="butt" stroke-dasharray="8 5"/>
<path d="M468.0,38.5 470.8,39.8 471.4,34.9 473.2,35.0 476.4,34.2 477.7,35.0 478.9,36.8 482.0,38.3 481.8,35.7 483.9,40.6 487.3,40.2 489.2,39.8 491.2,40.4 491.4,41.0 493.7,40.5 495.7,38.1 497.0,38.3 498.7,36.1 501.7,41.7 502.4,40.1 503.3,41.7 503.7,43.5 504.0,45.2 504.4,47.0 504.7,48.8 505.0,50.5 505.3,52.3 505.6,54.1 505.8,55.9 506.1,57.7 506.4,59.4 506.6,61.2 506.8,63.0 507.1,64.8 507.3,66.6 507.5,68.4 507.8,70.1 508.0,71.9 508.2,73.7 508.4,75.5 508.7,77.3 508.9,79.1 509.1,80.9 509.3,82.6 509.5,84.4 509.8,86.2 510.0,88.0 510.2,89.8 510.4,91.6 510.7,93.4 510.9,95.1 511.1,96.9 511.4,98.7 511.6,100.5 511.9,102.3 512.2,104.1 512.5,105.8 512.8,107.6 513.1,109.4 513.4,111.2 513.6,112.9 513.8,114.7 514.0,116.5 514.2,118.3 514.3,120.1 514.4,121.9 514.5,123.7 514.6,125.5 514.7,127.3 514.9,129.1 515.0,130.9 515.1,132.7 515.2,134.5 515.3,136.3 515.5,138.1 515.7,139.9 515.8,141.7 516.0,143.4 516.2,145.2 516.4,147.0 516.7,148.8 516.9,150.6 517.2,152.4 517.5,154.1 517.8,155.9 518.2,157.7 518.5,159.4 518.9,161.2 519.4,162.9 519.8,164.7 520.4,166.4 521.0,168.1 521.7,169.7 522.5,171.4 523.3,173.0 524.1,174.6 524.9,176.2 525.7,177.8 526.6,179.4 527.5,180.9 528.4,182.5 529.3,184.1 530.1,185.6 530.9,187.3 531.7,188.9 532.5,190.5 533.3,192.1 534.1,193.7 534.9,195.3 535.8,196.9 536.8,198.4 537.9,199.8 539.1,201.2 540.3,202.5 541.6,203.8 543.0,204.9 544.5,205.8 546.6,208.0 547.2,209.6 547.8,210.5 549.5,209.2 550.5,212.2 552.1,212.9 554.2,213.4 555.0,214.7 556.7,214.4 558.2,216.0 559.6,218.4 562.6,217.7 563.9,221.2 564.6,217.5 567.5,221.6 569.1,218.2 570.5,222.1 573.0,222.1 573.6,223.1 575.2,223.6 576.2,226.1 578.4,225.9 579.4,226.0 581.7,226.2 583.2,227.1 584.9,224.7 586.4,226.2 587.9,223.1 589.5,224.5 592.0,223.4 592.9,222.7 595.1,221.5 596.1,227.1 597.8,224.5 599.4,227.2 601.1,227.5 601.7,225.8 602.3,224.1 602.9,222.4 603.5,220.7 604.2,219.1 604.8,217.4 605.5,215.7 606.1,214.0 606.8,212.4 607.5,210.7 608.2,209.0 608.8,207.3 609.4,205.6 609.9,203.9 610.4,202.2 611.0,200.5 611.5,198.8 612.1,197.1 612.7,195.4 613.2,193.6 613.8,191.9 614.4,190.2 615.0,188.5 615.5,186.8 616.1,185.1 616.7,183.4 617.2,181.7 617.8,180.0 618.4,178.3 619.0,176.6 619.5,174.9 620.1,173.2 620.7,171.5 621.3,169.8 621.9,168.1 622.5,166.4 623.1,164.7 623.7,163.0 624.3,161.3 624.9,159.6 625.5,157.9 626.1,156.2 626.8,154.5 627.4,152.8 628.0,151.1 628.6,149.5 629.3,147.8 629.9,146.1 630.6,144.4 631.3,142.8 632.0,141.1 632.8,139.5 633.6,137.9 634.4,136.3 635.2,134.6 636.0,133.0 636.9,131.5 637.7,129.9 638.5,128.3 639.4,126.7 640.2,125.1 641.1,123.5 642.0,121.9 642.8,120.4 643.7,118.8 644.6,117.2 645.5,115.7 646.4,114.1 647.3,112.5 648.2,111.0 649.0,109.4 649.8,107.7 650.5,106.1 651.2,104.5 652.1,102.9 653.1,101.4 654.1,99.9 655.3,98.5 656.4,97.2 657.6,95.8 658.9,94.5 659.7,93.1 661.3,93.0 662.3,90.3 664.2,91.2 665.7,88.6 667.3,86.9 668.1,86.4 670.3,86.0 671.0,84.7 673.0,82.3 674.3,81.6 675.6,80.6 677.2,80.1 678.7,79.6 680.4,80.0 682.6,76.9 684.4,76.9 685.8,77.3 687.3,75.8 689.1,74.6 691.2,73.8 692.8,73.5 694.0,73.4 695.4,71.9 697.4,72.2 699.6,73.5 700.5,71.6 702.4,72.1 704.4,72.2 706.4,69.6 707.6,69.8 710.3,69.3 711.7,69.8 713.3,71.0 715.0,70.5 717.2,71.0 718.9,70.7 720.6,69.4 722.4,70.1" fill="none" stroke="#000" stroke-width="2.3" stroke-linejoin="round" stroke-linecap="butt" stroke-dasharray="8 5"/>
<path d="M77.9,494.0 80.3,493.1 81.6,494.4 84.1,493.2 85.5,492.1 86.7,492.7 89.2,491.5 91.3,492.1 92.4,491.4 95.1,494.2 96.7,493.7 97.5,492.6 99.9,491.8 101.7,493.3 102.7,493.8 103.4,495.5 104.0,497.2 104.6,498.9 105.1,500.6 105.5,502.4 105.8,504.1 106.0,505.9 106.1,507.7 106.3,509.5 106.4,511.3 106.4,513.1 106.5,514.9 106.6,516.7 106.8,518.5 106.9,520.3 107.0,522.1 107.2,523.9 107.3,525.7 107.5,527.5 107.6,529.3 107.9,531.1 108.2,532.8 108.4,534.6 108.7,536.4 108.8,538.2 109.0,540.0 109.1,541.8 109.2,543.6 109.3,545.4 109.3,547.2 109.4,549.0 109.4,550.8 109.5,552.6 109.6,554.4 109.7,556.2 109.8,558.0 109.9,559.8 110.1,561.5 110.3,563.3 110.5,565.1 110.8,566.9 111.1,568.7 111.4,570.5 111.7,572.2 112.0,574.0 112.4,575.8 112.7,577.5 113.0,579.3 113.4,581.1 113.7,582.8 114.1,584.6 114.5,586.4 114.9,588.1 115.3,589.9 115.7,591.6 116.1,593.4 116.5,595.1 116.9,596.9 117.4,598.6 117.8,600.4 118.3,602.1 118.7,603.8 119.2,605.6 119.7,607.3 120.1,609.1 120.6,610.8 121.1,612.5 121.6,614.2 122.2,616.0 122.8,617.7 123.4,619.3 124.1,621.0 124.8,622.7 125.6,624.3 126.3,625.9 127.1,627.6 127.8,629.2 128.6,630.8 129.4,632.4 130.2,634.0 131.0,635.7 131.8,637.3 132.7,638.9 133.5,640.5 134.4,642.0 135.2,643.6 136.2,645.1 137.1,646.7 138.2,648.1 139.3,649.6 140.5,650.9 141.7,652.2 143.1,653.3 144.5,654.5 145.9,655.6 147.4,656.6 148.9,657.6 150.4,658.6 151.9,659.5 153.5,660.4 155.1,661.3 156.7,662.1 158.3,662.9 159.9,663.7 161.6,664.4 163.2,665.1 164.9,665.8 166.5,666.5 168.2,667.2 169.9,667.8 171.6,668.4 173.3,669.0 175.0,669.6 176.8,670.0 178.5,670.4 180.3,670.8 182.0,671.1 183.8,671.4 185.6,671.7 187.4,671.9 189.2,672.2 190.9,672.4 192.7,672.6 194.5,672.8 196.3,673.0 198.1,673.1 199.9,673.3 201.7,673.4 203.5,673.6 204.1,672.0 204.8,670.3 205.5,668.7 206.1,667.0 206.8,665.3 207.5,663.6 208.1,662.0 208.8,660.3 209.4,658.6 210.0,656.9 210.6,655.2 211.2,653.5 211.7,651.8 212.3,650.1 213.0,648.4 213.6,646.7 214.2,645.0 214.8,643.3 215.5,641.7 216.1,640.0 216.8,638.3 217.4,636.6 218.1,635.0 218.8,633.3 219.5,631.6 220.2,630.0 220.9,628.3 221.6,626.6 222.3,625.0 223.0,623.3 223.7,621.7 224.5,620.1 225.2,618.4 226.0,616.8 226.7,615.1 227.4,613.5 228.1,611.8 228.8,610.2 229.5,608.5 230.2,606.9 230.9,605.2 231.6,603.5 232.3,601.9 232.9,600.2 233.6,598.5 234.2,596.8 234.8,595.1 235.4,593.4 236.0,591.7 236.6,590.0 237.3,588.4 237.9,586.7 238.6,585.0 239.2,583.3 239.9,581.7 240.6,580.0 241.3,578.4 242.1,576.7 242.9,575.1 243.8,573.5 244.6,571.9 245.5,570.4 246.3,568.8 247.2,567.2 248.1,565.7 249.0,564.1 250.0,562.6 250.9,561.0 252.0,559.6 253.1,558.2 254.2,556.8 255.3,555.4 256.4,553.9 257.5,552.5 258.6,551.1 259.7,549.6 260.8,548.2 261.9,546.8 263.1,545.4 264.3,544.1 265.6,542.8 266.8,541.5 268.1,540.3 269.4,539.0 270.7,537.8 272.1,536.6 273.4,535.4 274.8,534.3 276.2,533.1 277.5,531.9 278.8,530.7 280.0,529.3 281.2,527.9 282.3,526.5 283.5,525.2 284.8,524.0 286.2,522.8 287.7,521.8 289.3,520.9 290.9,520.1 292.5,519.3 294.1,518.6 295.8,517.9 297.5,517.3 299.2,516.7 300.9,516.1 302.6,515.7 304.4,515.3 306.1,514.8 307.9,514.4 309.6,513.8 311.3,513.3 313.0,512.8 314.8,512.2 316.5,511.7 318.2,511.3 320.0,510.9 321.8,510.6 323.5,510.3 325.3,510.1 327.1,509.9 328.9,509.8 330.7,509.6 332.5,509.5 334.3,509.3 336.1,509.2 337.5,509.1" fill="none" stroke="#000" stroke-width="2.4" stroke-linejoin="round" stroke-linecap="butt"/>
<path d="M78.6,492.3 79.8,494.4 81.7,492.3 83.8,492.8 85.8,492.5 87.6,492.8 89.2,494.2 91.0,494.2 92.8,492.1 94.8,493.5 96.2,492.5 98.4,493.5 100.2,494.0 101.7,493.3 102.7,493.7 102.9,495.5 103.0,497.3 103.1,499.1 103.2,500.9 103.3,502.6 103.4,504.4 103.6,506.2 103.7,508.0 103.8,509.8 104.0,511.6 104.1,513.4 104.2,515.2 104.4,517.0 104.5,518.8 104.6,520.6 104.7,522.4 104.9,524.2 105.0,526.0 105.2,527.8 105.4,529.6 105.6,531.4 105.9,533.1 106.2,534.9 106.4,536.7 106.6,538.5 106.7,540.3 106.8,542.1 106.9,543.9 107.0,545.7 107.0,547.5 107.1,549.3 107.2,551.1 107.2,552.9 107.3,554.7 107.4,556.5 107.5,558.3 107.7,560.1 107.8,561.8 108.0,563.6 108.3,565.4 108.5,567.2 108.8,569.0 109.1,570.8 109.4,572.5 109.8,574.3 110.1,576.1 110.4,577.8 110.7,579.6 111.1,581.4 111.5,583.1 111.8,584.9 112.2,586.7 112.6,588.4 113.0,590.2 113.4,591.9 113.8,593.7 114.2,595.4 114.6,597.2 115.1,598.9 115.5,600.7 116.0,602.4 116.4,604.2 116.9,605.9 117.4,607.6 117.8,609.4 118.3,611.1 118.8,612.8 119.3,614.6 119.9,616.3 120.5,618.0 121.1,619.7 121.8,621.3 122.5,623.0 123.2,624.6 123.9,626.3 124.7,627.9 125.4,629.5 126.2,631.2 127.0,632.8 127.8,634.4 128.6,636.0 129.4,637.6 130.2,639.2 131.1,640.8 131.9,642.4 132.8,644.0 133.7,645.5 134.6,647.1 135.6,648.6 136.7,650.0 137.8,651.4 139.0,652.7 140.3,654.0 141.7,655.2 143.1,656.3 144.5,657.4 146.0,658.4 147.5,659.5 149.0,660.4 150.5,661.4 152.1,662.3 153.7,663.1 155.3,664.0 156.9,664.8 158.5,665.5 160.1,666.3 161.8,667.0 163.4,667.7 165.1,668.4 166.8,669.1 168.4,669.7 170.1,670.4 171.8,671.0 173.5,671.5 175.3,672.0 177.0,672.5 178.8,672.8 180.6,673.2 182.3,673.5 184.1,673.7 185.9,674.0 187.7,674.3 189.4,674.6 191.2,674.8 193.0,675.1 194.8,675.3 196.6,675.5 198.4,675.7 200.2,675.9 201.9,676.1 203.7,676.3 205.5,676.5 207.3,676.7 209.1,676.8 210.9,676.8 212.7,676.8 214.5,676.8 216.3,676.8 218.1,676.8 219.9,676.8 221.7,676.8 223.5,676.7 225.3,676.7 227.1,676.7 228.9,676.7 230.7,676.6 232.5,676.6 234.3,676.6 235.0,674.9 235.6,673.2 236.3,671.6 236.9,669.9 237.6,668.2 238.2,666.5 238.9,664.9 239.5,663.2 240.2,661.5 240.8,659.8 241.5,658.1 242.1,656.4 242.7,654.8 243.4,653.1 244.0,651.4 244.7,649.7 245.4,648.1 246.0,646.4 246.7,644.7 247.4,643.1 248.1,641.4 248.7,639.7 249.4,638.0 250.0,636.4 250.7,634.7 251.3,633.0 252.0,631.3 252.6,629.6 253.2,627.9 253.9,626.3 254.6,624.6 255.2,622.9 255.9,621.2 256.5,619.6 257.2,617.9 257.9,616.2 258.6,614.6 259.4,612.9 260.1,611.3 260.9,609.7 261.7,608.1 262.4,606.4 263.2,604.8 263.9,603.2 264.7,601.5 265.4,599.9 266.2,598.3 266.9,596.6 267.6,594.9 268.3,593.3 269.0,591.6 269.8,590.0 270.8,588.5 271.9,587.1 272.8,585.6 273.7,584.0 274.5,582.3 275.2,580.7 276.0,579.1 277.0,577.6 278.1,576.1 279.3,574.8 280.4,573.4 281.4,571.9 282.4,570.4 283.3,568.9 284.3,567.3 285.2,565.8 286.1,564.2 286.9,562.6 287.8,561.0 288.6,559.5 289.5,557.9 290.4,556.3 291.2,554.7 292.2,553.2 293.1,551.7 294.2,550.2 295.4,548.9 296.6,547.5 297.8,546.2 298.9,544.8 300.1,543.4 301.3,542.1 302.5,540.8 303.8,539.5 305.2,538.3 306.6,537.2 308.0,536.1 309.4,535.0 310.9,533.9 312.3,532.8 313.8,531.8 315.2,530.7 316.6,529.6 318.1,528.6 319.6,527.6 321.2,526.7 322.8,525.9 324.4,525.1 326.0,524.3 327.6,523.5 329.3,522.8 331.0,522.1 332.7,521.6 334.4,521.1 336.1,520.6 337.8,520.1" fill="none" stroke="#000" stroke-width="2.4" stroke-linejoin="round" stroke-linecap="butt"/>
<path d="M78.9,495.2 81.2,491.4 83.2,492.9 85.5,491.6 87.5,492.9 89.9,493.0 92.1,491.4 95.4,492.9 97.5,494.3 99.7,491.4 101.9,492.7 102.7,492.7 102.8,495.1 103.0,497.5 103.1,499.9 103.3,502.2 103.4,504.6 103.5,507.0 103.7,509.4 103.8,511.8 103.9,514.2 104.0,516.6 104.2,519.0 104.3,521.4 104.4,523.8 104.5,526.2 104.7,528.6 104.8,531.0 104.9,533.4 105.0,535.8 105.1,538.2 105.2,540.6 105.3,543.0 105.5,545.4 105.7,547.8 105.8,550.2 106.0,552.6 106.2,555.0 106.4,557.4 106.7,559.7 107.0,562.1 107.8,564.4 108.2,566.7 108.6,569.1 109.0,571.5 109.3,573.9 109.7,576.2 110.0,578.6 110.3,581.0 110.5,583.4 110.8,585.8 110.9,588.2 111.1,590.6 111.2,593.0 111.3,595.4 111.3,597.8 111.4,600.2 111.5,602.6 111.5,605.0 111.6,607.4 111.7,609.8 111.8,612.2 111.9,614.6 112.0,616.9 112.1,619.3 112.2,621.7 112.3,624.1 112.4,626.5 112.5,628.9 112.6,631.3 112.7,633.7 112.8,636.1 112.9,638.5 113.1,640.9 113.2,643.3 113.4,645.7 113.6,648.1 113.8,650.5 114.0,652.9 114.3,655.3 114.6,657.7 115.0,660.0 115.4,662.4 115.9,664.7 116.4,667.1 116.9,669.4 117.3,671.8 117.5,674.2 117.8,676.6 118.0,679.0 118.3,681.3 118.7,683.7 119.1,686.1 119.6,688.4 120.1,690.8 120.6,693.1 121.1,695.5 121.5,697.8 122.0,700.2 122.4,702.5 122.9,704.9 123.5,707.2 124.1,709.5 124.8,711.8 125.5,714.1 126.3,716.4 127.0,718.7 127.9,720.9 128.7,723.2 129.6,725.4 130.5,727.6 131.5,729.8 132.5,732.0 133.6,734.1 134.9,736.2 136.2,738.2 137.7,740.0 139.3,741.8 141.1,743.5 142.9,745.0 144.8,746.5 146.9,747.7 149.0,748.8 151.1,749.9 153.8,751.8 155.3,753.6 158.2,752.8 160.0,753.4 162.0,755.9 163.8,752.0 166.5,756.9 169.2,755.2 171.7,753.5 173.1,754.6 176.9,753.9 177.7,753.2 180.0,754.5 183.5,758.4 185.4,755.1 187.7,754.6 190.1,755.4 190.2,753.0 190.4,750.6 190.7,748.3 191.1,745.9 191.5,743.5 192.1,741.2 192.7,738.9 193.3,736.5 193.9,734.2 194.5,731.9 195.1,729.6 195.7,727.3 196.4,725.0 197.1,722.7 197.7,720.4 198.4,718.1 199.1,715.7 199.8,713.4 200.4,711.1 201.1,708.8 201.8,706.5 202.4,704.2 203.1,701.9 203.7,699.6 204.2,697.3 204.8,694.9 205.4,692.6 206.0,690.3 206.5,687.9 207.1,685.6 207.7,683.3 208.3,680.9 208.9,678.6 209.5,676.3 210.1,674.0 210.7,671.7 211.4,669.4 212.0,667.0 212.5,664.7 213.1,662.4 213.6,660.0 214.1,657.7 214.7,655.3 215.2,653.0 215.8,650.7 216.4,648.3 217.0,646.0 217.6,643.7 218.2,641.4 218.8,639.1 219.4,636.7 220.1,634.4 220.8,632.1 221.5,629.9 222.3,627.6 223.2,625.3 224.1,623.1 224.9,620.9 225.7,618.6 226.5,616.3 227.4,614.1 228.3,611.9 229.3,609.7 230.2,607.5 231.2,605.3 232.1,603.1 233.2,600.9 234.2,598.8 235.7,596.9 236.3,592.9 238.3,593.5 239.7,589.5 240.7,590.5 242.0,588.5 242.6,586.6 243.6,582.0 244.7,581.6 246.8,580.3 248.1,578.1 248.9,576.2 250.4,571.3 252.0,569.3 252.1,565.9 253.7,564.4 255.5,565.6 255.8,559.8 257.3,558.0 258.4,558.7 259.0,554.8 260.8,552.7 261.1,552.5 262.8,550.3 263.9,546.2 265.4,546.1 266.9,541.7 268.1,540.7 270.5,539.8 272.1,539.5 273.4,537.2 275.7,535.5 278.4,532.8 280.6,530.8 282.1,531.6 283.9,530.8 286.5,529.5 288.9,526.3 290.5,528.6 292.5,528.2 294.9,527.2 297.3,526.3 300.0,524.6 302.8,526.3 305.2,526.4 307.4,526.1 309.4,527.5 311.5,527.0 314.9,524.7 317.1,524.8 319.2,522.8 321.2,523.3 323.6,526.0 326.0,523.2 328.5,524.6 330.9,522.6 333.2,521.9 335.5,521.2 336.3,520.9" fill="none" stroke="#000" stroke-width="2.3" stroke-linejoin="round" stroke-linecap="butt" stroke-dasharray="8 5"/>
<path d="M78.5,494.0 80.5,494.4 82.9,493.6 85.2,493.8 87.6,493.7 90.5,493.8 92.7,494.1 95.5,492.3 97.5,494.4 100.1,493.2 101.9,492.7 102.7,492.6 102.8,495.0 103.0,497.4 103.1,499.8 103.3,502.2 103.4,504.6 103.5,507.0 103.6,509.4 103.8,511.8 103.9,514.2 104.0,516.6 104.1,519.0 104.2,521.4 104.4,523.8 104.5,526.2 104.6,528.6 104.8,531.0 104.9,533.4 105.1,535.8 105.2,538.2 105.4,540.6 105.5,542.9 105.7,545.3 105.9,547.7 106.1,550.1 106.2,552.5 106.4,554.9 106.7,557.3 106.9,559.7 107.2,562.1 107.9,564.4 108.5,566.7 109.1,569.0 109.7,571.3 110.2,573.7 110.7,576.0 111.2,578.4 111.6,580.8 111.9,583.1 112.2,585.5 112.5,587.9 112.7,590.3 112.9,592.7 113.2,595.1 113.4,597.5 113.5,599.8 113.7,602.2 113.8,604.6 113.9,607.0 114.0,609.4 114.1,611.8 114.1,614.2 114.2,616.6 114.3,619.0 114.4,621.4 114.4,623.8 114.5,626.2 114.6,628.6 114.7,631.0 114.7,633.4 114.8,635.8 115.0,638.2 115.1,640.6 115.3,643.0 115.5,645.4 115.7,647.8 115.9,650.2 116.1,652.6 116.4,655.0 116.5,657.4 116.7,659.7 116.9,662.1 117.0,664.5 117.2,666.9 117.4,669.3 117.6,671.7 117.9,674.1 118.2,676.5 118.5,678.9 118.8,681.2 119.2,683.6 119.6,686.0 120.1,688.3 120.6,690.7 121.1,693.0 121.6,695.4 122.0,697.7 122.4,700.1 122.9,702.4 123.4,704.8 124.0,707.1 124.6,709.4 125.2,711.8 125.9,714.1 126.7,716.3 127.4,718.6 128.3,720.9 129.1,723.1 130.0,725.3 130.9,727.6 131.9,729.8 132.9,731.9 133.9,734.1 135.1,736.2 136.4,738.2 137.9,740.1 139.5,741.9 141.2,743.6 142.9,745.2 144.8,746.7 146.9,747.9 149.0,749.1 151.1,750.2 152.8,754.7 154.0,754.9 157.7,751.9 158.8,753.8 161.6,754.8 164.7,759.3 165.8,759.5 167.6,754.2 171.3,759.6 174.0,761.3 176.5,756.3 178.6,761.2 179.6,758.2 182.2,755.8 185.3,759.6 188.7,755.7 190.1,762.0 193.1,758.6 194.4,759.3 196.5,757.4 197.0,755.1 197.6,752.7 198.1,750.4 198.6,748.0 199.2,745.7 199.7,743.4 200.3,741.0 200.9,738.7 201.5,736.4 202.1,734.1 202.7,731.8 203.4,729.4 204.0,727.1 204.6,724.8 205.3,722.5 206.0,720.2 206.7,717.9 207.5,715.6 208.2,713.4 208.9,711.0 209.4,708.7 209.9,706.4 210.4,704.0 210.9,701.7 211.4,699.3 211.9,697.0 212.5,694.7 213.2,692.3 213.8,690.0 214.4,687.7 215.0,685.4 215.6,683.1 216.2,680.7 216.8,678.4 217.3,676.1 217.9,673.7 218.5,671.4 219.2,669.1 219.8,666.8 220.5,664.5 221.1,662.2 221.8,659.9 222.5,657.6 223.2,655.3 223.8,653.0 224.5,650.7 225.2,648.4 225.8,646.1 226.5,643.7 227.1,641.4 227.7,639.1 228.3,636.8 228.9,634.5 229.5,632.1 230.1,629.8 230.6,627.5 231.1,625.1 231.7,622.8 232.2,620.4 232.8,618.1 233.3,615.8 234.0,613.5 234.7,611.2 235.5,608.9 236.3,606.7 237.1,604.4 238.0,602.2 238.9,599.9 239.7,597.7 240.5,595.4 241.4,593.2 242.1,590.9 242.9,588.6 243.6,586.3 244.4,584.1 244.9,582.4 246.2,579.1 247.4,577.0 248.1,576.6 249.1,571.9 250.8,571.0 252.6,568.3 253.5,565.6 255.1,564.7 256.5,564.6 257.4,563.6 259.6,560.9 260.8,558.0 262.0,555.4 263.2,553.1 264.8,551.3 267.0,551.3 268.2,546.3 269.3,546.5 271.4,544.2 272.9,544.3 274.0,540.4 275.3,539.3" fill="none" stroke="#000" stroke-width="2.3" stroke-linejoin="round" stroke-linecap="butt" stroke-dasharray="8 5"/>
<path d="M468.2,489.2 470.3,490.9 471.9,489.2 473.8,491.1 475.5,491.0 477.7,489.2 479.4,490.1 481.1,491.7 482.6,488.8 485.2,489.9 486.3,489.7 488.3,491.6 489.9,489.4 492.1,490.4 494.2,491.3 495.5,489.5 497.7,491.9 498.8,491.2 501.3,490.9 502.5,490.9 504.0,490.8 504.5,492.5 504.7,494.3 504.8,496.1 504.9,497.9 505.0,499.7 505.1,501.5 505.3,503.3 505.4,505.1 505.5,506.9 505.6,508.7 505.8,510.5 505.9,512.3 506.0,514.1 506.1,515.9 506.2,517.7 506.3,519.5 506.4,521.3 506.5,523.1 506.5,524.9 506.6,526.7 506.6,528.5 506.7,530.3 506.7,532.1 506.8,533.9 506.9,535.7 506.9,537.5 507.0,539.3 507.1,541.1 507.2,542.9 507.3,544.7 507.3,546.5 507.4,548.3 507.5,550.1 507.6,551.9 507.7,553.7 507.8,555.4 507.9,557.2 508.0,559.0 508.1,560.8 508.2,562.6 508.3,564.4 508.5,566.2 508.6,568.0 508.7,569.8 508.9,571.6 509.1,573.4 509.3,575.2 509.5,577.0 509.6,578.8 509.7,580.6 509.8,582.4 509.9,584.2 510.0,586.0 510.1,587.8 510.1,589.6 510.2,591.4 510.3,593.2 510.3,595.0 510.4,596.8 510.5,598.6 510.6,600.4 510.8,602.1 510.9,603.9 511.1,605.7 511.3,607.5 511.6,609.3 511.8,611.1 512.1,612.9 512.4,614.6 512.7,616.4 512.9,618.2 513.2,620.0 513.5,621.8 513.7,623.5 514.0,625.3 514.2,627.1 514.5,628.9 514.7,630.7 515.0,632.4 515.3,634.2 515.6,636.0 515.9,637.8 516.2,639.6 516.5,641.3 516.8,643.1 517.1,644.9 517.4,646.6 517.7,648.4 518.1,650.2 518.4,651.9 518.8,653.7 519.2,655.5 519.5,657.2 520.0,659.0 520.4,660.7 520.9,662.5 521.4,664.2 521.9,665.9 522.4,667.7 522.9,669.4 523.5,671.1 524.1,672.8 524.7,674.5 525.3,676.2 526.0,677.8 526.7,679.5 527.4,681.1 528.2,682.7 529.0,684.4 529.9,685.9 530.7,687.5 531.7,689.1 532.6,690.6 533.7,692.1 534.8,693.5 535.9,694.9 537.1,696.2 538.4,697.4 539.8,698.6 541.2,699.8 542.6,700.9 544.1,701.9 545.7,702.4 547.2,703.4 548.5,704.4 550.2,705.4 552.0,706.8 553.8,707.8 555.4,708.2 556.8,707.9 558.6,709.2 560.3,709.2 561.7,711.2 563.6,711.5 565.0,711.6 567.1,712.6 568.9,712.4 570.4,713.9 572.1,714.3 573.9,713.6 575.5,715.2 577.3,714.2 579.2,715.3 581.2,715.1 582.8,715.8 584.5,715.3 586.4,715.9 588.0,715.3 589.8,716.5 591.8,717.1 593.7,716.1 595.4,717.4 596.0,714.9 596.8,713.3 597.5,711.7 598.3,710.0 599.1,708.4 600.0,706.9 600.9,705.3 601.7,703.7 602.6,702.1 603.3,700.5 604.1,698.9 604.7,697.2 605.4,695.5 606.0,693.8 606.6,692.1 607.2,690.4 607.8,688.7 608.4,687.0 609.0,685.3 609.6,683.6 610.2,681.9 610.8,680.2 611.4,678.5 612.0,676.8 612.6,675.1 613.2,673.4 613.7,671.7 614.3,670.0 614.9,668.3 615.5,666.6 616.0,664.9 616.6,663.2 617.2,661.5 617.8,659.8 618.4,658.1 619.0,656.4 619.6,654.7 620.2,653.0 620.8,651.3 621.4,649.6 622.0,647.9 622.6,646.2 623.2,644.5 623.9,642.9 624.5,641.2 625.1,639.5 625.8,637.8 626.4,636.1 627.0,634.4 627.7,632.8 628.4,631.1 629.0,629.4 629.7,627.7 630.4,626.1 631.0,624.4 631.7,622.7 632.4,621.1 633.1,619.4 633.8,617.8 634.5,616.1 635.3,614.5 636.0,612.8 636.7,611.2 637.4,609.5 638.2,607.9 638.9,606.2 639.6,604.6 640.3,602.9 641.1,601.3 641.8,599.6 642.5,598.0 643.3,596.4 644.0,594.7 644.7,593.1 645.4,591.4 646.2,589.8 646.9,588.1 647.6,586.5 648.4,584.8 649.1,583.2 649.8,581.6 650.6,579.9 651.3,578.3 652.1,576.6 652.8,575.0 653.6,573.4 654.4,571.8 655.2,570.1 656.0,568.5 656.9,567.0 657.7,565.4 658.6,563.8 659.5,562.2 660.4,560.7 661.3,559.1 662.2,557.6 663.1,556.0 664.1,554.5 665.1,553.0 666.1,551.5 667.1,550.0 668.1,548.5 669.2,547.1 670.3,545.7 671.4,544.2 672.5,542.8 673.7,541.5 674.9,540.1 676.1,538.8 677.3,537.5 678.6,536.2 679.8,534.9 681.1,533.7 682.5,532.4 683.8,531.2 685.2,530.1 686.6,528.9 688.0,527.8 689.4,526.8 690.9,525.8 692.4,524.8 694.0,523.8 695.5,522.9 697.1,522.0 698.7,521.2 700.3,520.3 701.9,519.5 703.5,518.8 705.1,518.0 706.8,517.4 708.5,516.7 710.2,516.2 711.9,515.6 713.6,515.1 715.4,514.6 717.1,514.1 718.9,513.7 720.6,513.2 722.3,512.8 724.1,512.4 725.9,512.0 727.6,511.6 728.0,511.5" fill="none" stroke="#000" stroke-width="2.4" stroke-linejoin="round" stroke-linecap="butt"/>
<path d="M468.2,489.5 470.2,491.6 472.2,491.0 473.6,490.3 476.1,490.4 478.0,491.4 479.3,488.7 481.4,489.1 482.6,490.9 485.1,491.2 487.0,489.3 488.0,489.1 490.6,489.1 491.7,488.9 493.4,488.9 495.5,489.4 497.2,491.7 498.9,491.4 501.2,490.6 502.8,490.8 504.0,490.8 504.5,492.5 504.7,494.3 504.8,496.1 504.9,497.9 505.0,499.7 505.1,501.5 505.3,503.3 505.4,505.1 505.5,506.9 505.6,508.7 505.8,510.5 505.9,512.3 506.0,514.1 506.1,515.9 506.2,517.7 506.3,519.5 506.4,521.3 506.5,523.1 506.5,524.9 506.6,526.7 506.6,528.5 506.7,530.3 506.7,532.1 506.8,533.9 506.9,535.7 506.9,537.5 507.0,539.3 507.1,541.1 507.2,542.9 507.3,544.7 507.3,546.5 507.4,548.3 507.5,550.1 507.6,551.9 507.7,553.7 507.8,555.4 507.9,557.2 508.0,559.0 508.1,560.8 508.2,562.6 508.4,564.4 508.5,566.2 508.6,568.0 508.7,569.8 508.9,571.6 509.1,573.4 509.3,575.2 509.4,577.0 509.5,578.8 509.5,580.6 509.6,582.4 509.6,584.2 509.6,586.0 509.6,587.8 509.6,589.6 509.6,591.4 509.6,593.2 509.7,595.0 509.7,596.8 509.7,598.6 509.7,600.4 509.7,602.2 509.7,604.0 509.7,605.8 509.7,607.6 509.7,609.4 509.8,611.2 509.8,613.0 509.8,614.8 509.9,616.6 509.9,618.4 510.0,620.2 510.1,622.0 510.1,623.8 510.2,625.6 510.3,627.4 510.4,629.2 510.4,631.0 510.5,632.8 510.6,634.6 510.6,636.4 510.7,638.2 510.8,640.0 510.8,641.8 510.9,643.6 510.9,645.4 511.0,647.2 511.1,649.0 511.2,650.8 511.3,652.6 511.4,654.4 511.5,656.1 511.6,657.9 511.7,659.7 511.8,661.5 512.0,663.3 512.1,665.1 512.2,666.9 512.3,668.7 512.4,670.5 512.5,672.3 512.7,674.1 512.8,675.9 512.9,677.7 513.1,679.5 513.2,681.3 513.4,683.1 513.5,684.9 513.7,686.7 513.8,688.5 514.0,690.3 514.2,692.0 514.3,693.8 514.5,695.6 514.7,697.4 514.8,699.2 515.0,701.0 515.2,702.8 515.4,704.6 515.6,706.4 515.8,708.2 516.1,709.9 516.3,711.7 516.6,713.5 516.9,715.3 517.1,717.1 517.5,718.8 517.8,720.6 518.1,722.4 518.5,724.1 518.9,725.9 519.3,727.6 519.7,729.4 520.2,731.1 520.7,732.9 521.1,734.6 521.6,736.3 522.1,738.1 522.6,739.8 523.2,741.5 523.8,743.2 524.3,744.9 525.0,746.6 525.7,748.3 526.4,749.9 527.2,751.5 528.0,753.1 529.0,754.6 530.0,756.1 531.1,757.6 532.1,759.0 533.2,760.5 534.3,761.9 535.3,763.4 536.2,764.9 537.2,766.5 538.2,768.0 539.2,769.4 540.5,770.8 541.9,771.9 543.4,772.8 544.9,773.8 546.2,775.0 547.4,776.4 548.5,777.8 549.7,779.2 550.7,780.6 551.8,781.9 552.4,780.2 552.9,778.5 553.5,776.8 554.1,775.1 554.6,773.4 555.2,771.7 555.8,770.0 556.3,768.3 556.9,766.6 557.5,764.9 558.1,763.1 558.6,761.4 559.2,759.7 559.8,758.0 560.4,756.3 561.0,754.6 561.6,752.9 562.1,751.2 562.7,749.5 563.2,747.8 563.7,746.1 564.1,744.3 564.5,742.5 564.9,740.8 565.2,739.0 565.6,737.3 566.0,735.5 566.4,733.8 567.0,732.1 567.8,730.5 568.8,728.9 569.6,727.3 570.3,725.7 570.9,724.0 571.4,722.2 571.9,720.5 572.4,718.8 572.8,717.0 573.3,715.3 573.7,713.5 574.0,711.8 574.4,710.0 574.8,708.2 575.1,706.5 575.5,704.7 575.8,702.9 576.2,701.2 576.5,699.4 576.9,697.6 577.3,695.9 578.2,694.4 579.7,693.7 580.4,692.0 580.9,690.3 581.4,688.6 581.8,686.8 582.2,685.1 582.5,683.3 582.8,681.5 583.1,679.8 583.4,678.0 583.8,676.2 584.2,674.5 584.6,672.7 585.1,671.0 585.6,669.3 586.2,667.5 586.7,665.8 587.1,664.1 587.6,662.3 587.9,660.6 588.3,658.8 588.6,657.0 589.0,655.3 589.3,653.5 589.7,651.7 590.0,650.0 590.4,648.2 590.8,646.5 591.2,644.7 591.7,643.0 592.1,641.2 592.7,639.5 593.2,637.8 593.8,636.1 594.4,634.4 595.0,632.7 595.6,631.0 596.3,629.3 597.0,627.7 597.8,626.0 598.5,624.4 599.1,622.7 599.8,621.0 600.4,619.3 600.9,617.6 601.5,615.9 602.0,614.2 602.5,612.5 603.1,610.8 603.7,609.1 604.4,607.4 605.1,605.7 605.7,604.1 606.4,602.4 607.1,600.7 607.8,599.1 608.4,597.4 609.0,595.7 609.7,594.0 610.3,592.3 610.9,590.6 611.6,589.0 612.3,587.3 613.0,585.7 613.8,584.0 614.5,582.4 615.3,580.7 616.0,579.1 616.8,577.5 617.5,575.8 618.2,574.2 618.9,572.5 619.7,570.9 620.5,569.3 621.3,567.7 622.1,566.0 622.8,564.4 623.4,562.7 624.1,561.1 624.9,559.4 625.6,557.8 626.5,556.2 627.8,555.0 629.5,554.4 631.1,553.7 632.4,552.5 632.9,550.8 633.2,549.0 633.8,547.3 634.5,545.6 635.3,544.0 636.4,542.6 638.0,543.0 639.6,543.0 640.4,541.4 641.2,539.8 642.1,538.2 643.0,536.7 644.1,535.3 645.4,534.1 646.3,532.5 646.7,530.8 647.7,529.4 649.4,528.8 651.2,528.7 652.9,529.3 654.6,529.8 656.4,529.4 657.9,528.6 659.1,527.3 659.8,525.6 660.4,523.9 661.1,522.3 662.7,521.6 664.5,521.3 666.0,520.4 667.4,519.2 668.3,517.7 669.3,516.6 670.3,518.1 671.1,519.7 672.4,520.9 674.0,520.4 675.5,519.4 676.9,518.3 678.6,517.6 680.4,517.4 682.1,517.6 683.9,517.7 685.7,517.6 687.4,516.9 688.9,516.0 690.6,514.5 692.1,513.9 693.9,515.4 695.7,513.0 697.5,514.7 699.3,514.4 700.8,513.2 703.0,513.5 704.5,514.7 706.2,513.9 707.9,515.8 710.1,515.5 711.7,515.0 713.8,513.8 715.3,513.2 716.8,512.5 718.9,511.6 720.8,512.0 722.4,512.5 724.2,510.9 725.7,511.0 727.2,513.9 729.2,514.8 729.9,513.6" fill="none" stroke="#000" stroke-width="2.3" stroke-linejoin="round" stroke-linecap="butt" stroke-dasharray="8 5"/>
</svg>
</body></html>
